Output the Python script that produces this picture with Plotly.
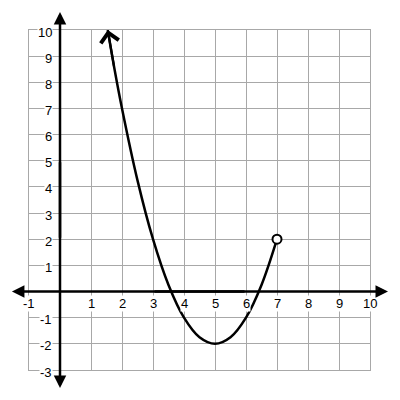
import plotly.graph_objects as go

# values
curve_x = [1.54, 1.75, 2.0, 2.5, 3.0, 3.5, 4.0, 4.5, 5.0, 5.5, 6.0, 6.5, 7.0]
curve_y = [10.0, 8.56, 7.0, 4.25, 2.0, 0.25, -1.0, -1.75, -2.0, -1.75, -1.0, 0.25, 2.0]
open_x = [7]
open_y = [2]
x_ticks = [-1, 1, 2, 3, 4, 5, 6, 7, 8, 9, 10]
y_ticks = [-3, -2, -1, 1, 2, 3, 4, 5, 6, 7, 8, 9, 10]
x_range = [-1, 10]
y_range = [-3, 10]

FONT = "Liberation Sans, Arial, sans-serif"

fig = go.Figure()
fig.add_trace(go.Scatter(x=curve_x, y=curve_y, mode="lines",
                         line=dict(color="black", width=2.5, shape="spline"),
                         hoverinfo="skip"))
fig.add_trace(go.Scatter(x=open_x, y=open_y, mode="markers",
                         marker=dict(size=9, color="white", line=dict(color="black", width=2)),
                         cliponaxis=False, hoverinfo="skip"))

ann = []
# tick labels (white background, hiding the grid behind them)
for v in x_ticks:
    ann.append(dict(x=v, y=0, xref="x", yref="y", text=str(v), showarrow=False,
                    xanchor="center", yanchor="middle", yshift=-12, bgcolor="white",
                    borderpad=0, font=dict(family=FONT, size=13, color="black")))
for v in y_ticks:
    ann.append(dict(x=0, y=v, xref="x", yref="y", text=str(v), showarrow=False,
                    xanchor="right", yanchor="middle", xshift=-7, yshift=-2, bgcolor="white",
                    borderpad=0, font=dict(family=FONT, size=13, color="black")))
# axes with arrows
ax_col = "black"
for tip, tail in ((x_range[0] - 0.55, 6.0), (x_range[1] + 0.58, 3.0)):
    ann.append(dict(x=tip, y=0, ax=tail, ay=0, xref="x", yref="y", axref="x", ayref="y",
                    showarrow=True, arrowhead=2, arrowsize=1, arrowwidth=2.5,
                    arrowcolor=ax_col, standoff=0, text=""))
for tip, tail in ((y_range[0] - 0.69, 5.0), (y_range[1] + 0.69, 2.0)):
    ann.append(dict(x=0, y=tip, ax=0, ay=tail, xref="x", yref="y", axref="x", ayref="y",
                    showarrow=True, arrowhead=2, arrowsize=1, arrowwidth=2.5,
                    arrowcolor=ax_col, standoff=0, text=""))
# open arrowhead at top of curve
ann.append(dict(x=curve_x[0], y=curve_y[0], ax=curve_x[1], ay=curve_y[1],
                xref="x", yref="y", axref="x", ayref="y", showarrow=True,
                arrowhead=4, arrowsize=1.6, arrowwidth=2.2, arrowcolor="black",
                standoff=0, text=""))

grid_col = "#a8a8a8"
# page body has an 8px margin: figure is 392 wide so the plot sits at 29..370 / 30..370
fig.update_layout(
    width=392, height=392,
    margin=dict(l=21, r=30, t=22, b=30),
    paper_bgcolor="white", plot_bgcolor="white",
    showlegend=False,
    annotations=ann,
    xaxis=dict(range=x_range, dtick=1, tick0=0, showgrid=True, gridcolor=grid_col,
               gridwidth=1, zeroline=False, showticklabels=False, ticks="",
               showline=True, mirror=True, linecolor=grid_col, linewidth=1, fixedrange=True),
    yaxis=dict(range=y_range, dtick=1, tick0=0, showgrid=True, gridcolor=grid_col,
               gridwidth=1, zeroline=False, showticklabels=False, ticks="",
               showline=True, mirror=True, linecolor=grid_col, linewidth=1, fixedrange=True),
)
fig.write_html("out.html", config={"displayModeBar": False})
